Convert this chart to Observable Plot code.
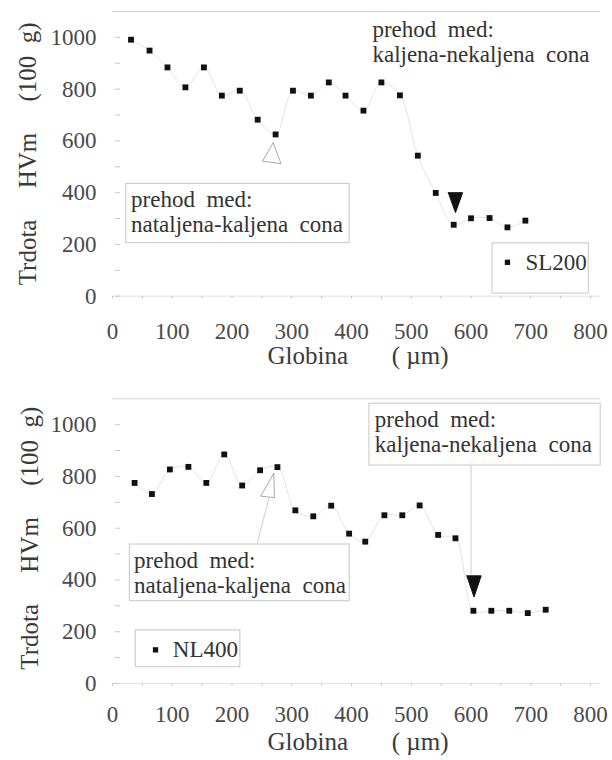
<!DOCTYPE html>
<html><head><meta charset="utf-8">
<script src="https://cdn.jsdelivr.net/npm/d3@7"></script>
<script src="https://cdn.jsdelivr.net/npm/@observablehq/plot@0.6"></script>
<style>
body{margin:0;background:#fff;}
#chart{width:612px;}
#chart svg{display:block;}
#chart svg, #chart svg text{font-family:"Liberation Serif", serif !important;}
</style></head><body><div id="chart"></div>
<script>
// ---- data ----
const depthSL = [31, 62, 92, 122, 153, 183, 213, 243, 273, 302, 332, 362, 390, 420, 450, 481, 511, 541, 571, 600, 631, 661, 691];
const hardSL  = [991, 949, 884, 807, 884, 775, 794, 682, 625, 794, 775, 826, 775, 717, 826, 776, 543, 399, 276, 301, 302, 266, 292];
const depthNL = [37, 66, 96, 127, 157, 187, 217, 247, 276, 306, 336, 366, 396, 423, 455, 485, 514, 545, 574, 604, 634, 664, 695, 725];
const hardNL  = [775, 732, 827, 837, 775, 885, 765, 824, 836, 669, 646, 687, 579, 548, 650, 650, 688, 574, 561, 281, 281, 281, 272, 285];

const xTickLabels = [0, 100, 200, 300, 400, 500, 600, 700, 800];
const xMinorTicks = [0, 50, 100, 150, 200, 250, 300, 350, 400, 450, 500, 550, 600, 650, 700, 750, 800];
const yTickLabels = [0, 200, 400, 600, 800, 1000];
const yMinorTicks = [0, 100, 200, 300, 400, 500, 600, 700, 800, 900, 1000];

const xTitle = "Globina\u00a0\u00a0\u00a0\u00a0\u00a0\u00a0\u00a0(\u00a0µm)";
const yTitle = "Trdota\u00a0\u00a0\u00a0\u00a0\u00a0HVm\u00a0\u00a0\u00a0\u00a0\u00a0(100\u00a0\u00a0g)";
const noteHard = "prehod\u00a0\u00a0med:\nkaljena-nekaljena\u00a0\u00a0cona";
const noteMelt = "prehod\u00a0\u00a0med:\nnataljena-kaljena\u00a0\u00a0cona";

// annotations (data coordinates of block centre-left)
const notesSL = [
  {x: 435, y: 985, text: noteHard, lh: 1.087},
  {x: 31, y: 329, text: noteMelt, lh: 1.087}
];
const boxesSL = [
  {x1: 23, x2: 397, y1: 205, y2: 434},
  {x1: 636, x2: 797, y1: 10, y2: 204}
];
const legendSL = {mx: 661, tx: 691, y: 131, text: "SL200"};
const openTriSL = [{x: 269, y: 593}, {x: 251, y: 522}, {x: 282, y: 512}, {x: 269, y: 593}];
const fillTriSL = [{x: 562, y: 400}, {x: 586, y: 400}, {x: 574, y: 323}, {x: 562, y: 400}];
const leadersSL = [];

const notesNL = [
  {x: 439, y: 974, text: noteHard, lh: 1.087},
  {x: 36, y: 430, text: noteMelt, lh: 1.1}
];
const boxesNL = [
  {x1: 430, x2: 817, y1: 842, y2: 1081},
  {x1: 29, x2: 397, y1: 318, y2: 537},
  {x1: 39, x2: 214, y1: 63, y2: 205}
];
const legendNL = {mx: 72, tx: 101, y: 130, text: "NL400"};
const openTriNL = [{x: 270, y: 812}, {x: 248, y: 724}, {x: 271, y: 718}, {x: 270, y: 812}];
const fillTriNL = [{x: 593, y: 416}, {x: 617, y: 416}, {x: 605, y: 334}, {x: 593, y: 416}];
const leadersNL = [
  {x1: 600, y1: 842, x2: 600, y2: 420},
  {x1: 242, y1: 540, x2: 262, y2: 718}
];

const FONT = "Liberation Serif";
const fmt = d => String(d);

function panel(cfg) {
  const data = cfg.depth.map((d, i) => ({depth: d, hv: cfg.hard[i]}));
  return Plot.plot({
    width: 612,
    height: 380,
    marginTop: cfg.mt,
    marginBottom: 380 - cfg.mt - 284.7,
    marginLeft: 112,
    marginRight: 12,
    style: {fontFamily: FONT, background: "#fff", overflow: "visible"},
    x: {domain: [0, 816.7], label: null},
    y: {domain: [0, 1100], label: null},
    marks: [
      Plot.ruleY([1100], {stroke: "#d2d2d2"}),
      Plot.ruleY([0], {stroke: "#e2e2e2"}),
      Plot.axisX({ticks: xMinorTicks, tickSize: 3, text: null, stroke: "#c8c8c8"}),
      Plot.axisX({ticks: xTickLabels, tickFormat: fmt, tickSize: 0, tickPadding: cfg.xpad, fontSize: 23, fontFamily: FONT, color: "#4a4a4a", label: null}),
      Plot.axisY({ticks: yTickLabels, tickFormat: fmt, tickSize: 0, tickPadding: 16, fontSize: 23, fontFamily: FONT, color: "#4a4a4a", label: null}),
      Plot.axisY({ticks: yMinorTicks, tickSize: 5, dx: 8, text: null, stroke: "#c8c8c8", label: null}),
      Plot.rect(cfg.boxes, {x1: "x1", x2: "x2", y1: "y1", y2: "y2", fill: "none", stroke: "#c6c6c6"}),
      Plot.link(cfg.leaders, {x1: "x1", y1: "y1", x2: "x2", y2: "y2", stroke: "#cccccc"}),
      Plot.line(data, {x: "depth", y: "hv", curve: "catmull-rom", stroke: "#e4e4e4", strokeWidth: 1}),
      Plot.line(cfg.openTri, {x: "x", y: "y", stroke: "#a8a8a8", fill: "#fff", strokeWidth: 1}),
      Plot.line(cfg.fillTri, {x: "x", y: "y", stroke: "#111", fill: "#111", strokeWidth: 1}),
      Plot.dot(data, {x: "depth", y: "hv", symbol: "square", r: 3.3, fill: "#111"}),
      ...cfg.notes.map(n => Plot.text([n], {x: "x", y: "y", text: "text", textAnchor: "start", lineAnchor: "middle", lineHeight: n.lh, fontSize: 23, fill: "#333", fontFamily: FONT})),
      Plot.dot([cfg.legend], {x: "mx", y: "y", symbol: "square", r: 3.0, fill: "#111"}),
      Plot.text([cfg.legend], {x: "tx", y: "y", text: "text", textAnchor: "start", fontSize: 23, fill: "#333", fontFamily: FONT}),
      Plot.text([xTitle], {frameAnchor: "bottom-left", dx: 155, dy: cfg.xtdy, textAnchor: "start", fontSize: 25, fill: "#3a3a3a", fontFamily: FONT}),
      Plot.text([yTitle], {frameAnchor: "left", dx: cfg.ytdx, dy: cfg.ytdy, rotate: -90, textAnchor: "middle", fontSize: 25, fill: "#3a3a3a", fontFamily: FONT})
    ]
  });
}

const root = document.getElementById("chart");
root.appendChild(panel({depth: depthSL, hard: hardSL, mt: 11, xpad: 26, xtdy: 68, ytdx: -85, ytdy: 0,
  notes: notesSL, boxes: boxesSL, legend: legendSL, openTri: openTriSL, fillTri: fillTriSL, leaders: leadersSL}));
root.appendChild(panel({depth: depthNL, hard: hardNL, mt: 18.3, xpad: 22, xtdy: 66, ytdx: -83, ytdy: -3,
  notes: notesNL, boxes: boxesNL, legend: legendNL, openTri: openTriNL, fillTri: fillTriNL, leaders: leadersNL}));
</script>
</body></html>
